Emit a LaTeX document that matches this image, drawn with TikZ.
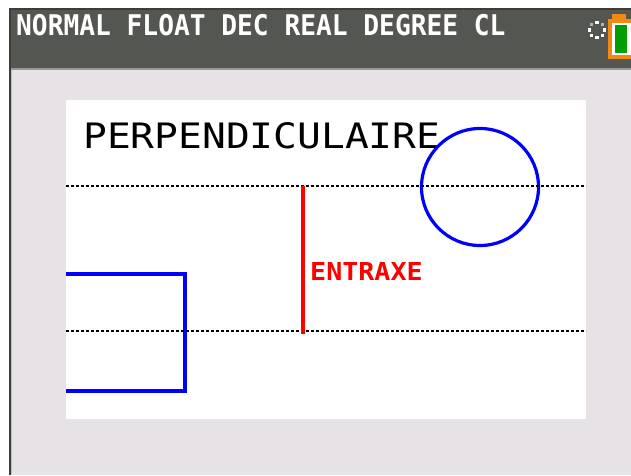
\documentclass[tikz,border=0pt]{standalone}
\usepackage{fontspec}
\newfontfamily\calcfont{DejaVu Sans Mono}
\definecolor{barbg}{RGB}{84,86,82}
\definecolor{barline}{RGB}{60,62,60}
\definecolor{screenbg}{RGB}{230,226,229}
\definecolor{battorange}{RGB}{240,138,20}
\definecolor{battgreen}{RGB}{0,158,0}
\definecolor{plotblue}{RGB}{0,0,255}
\definecolor{plotred}{RGB}{255,0,0}
\tikzset{
  guide/.style={black, line width=1.1pt, dash pattern=on 3pt off 2pt},
  shapeline/.style={plotblue, line width=3.2pt, line join=miter},
  statustext/.style={anchor=base west, inner sep=0pt, text=white,
    font=\calcfont\bfseries\fontsize{28.5}{30}\selectfont},
  titletext/.style={anchor=base west, inner sep=0pt, text=black,
    font=\calcfont\fontsize{35}{37}\selectfont},
  labeltext/.style={anchor=base west, inner sep=0pt, text=plotred,
    font=\calcfont\bfseries\fontsize{24.7}{26}\selectfont},
}
\begin{document}
\begin{tikzpicture}[x=1pt,y=-1pt]
\useasboundingbox (0,0) rectangle (631,475);
\clip (0,0) rectangle (631,475);
% frame and screen background
\fill[white] (0,0) rectangle (631,475);
\fill[screenbg] (11,10) rectangle (631,475);
\fill[barline] (9,8) rectangle (631,10);
\fill[barline] (9,8) rectangle (11,475);
\fill[black!25] (11,10) rectangle (12,475);
% status bar
\fill[barbg] (11,10) rectangle (631,68);
\fill[black!40] (11,68) rectangle (631,70);
\node[statustext] (status) at (16,35) {\scalebox{0.92}[1]{NORMAL FLOAT DEC REAL DEGREE CL}};
% busy indicator
\foreach \a/\c in {0/white,45/white,90/white,135/white,180/white,225/black!30,270/white,315/black!30}
  \fill[\c,shift={(597,30)}] (\a:7.5) ++(-1.6,-1.6) rectangle ++(3.2,3.2);
% battery
\fill[battorange] (612,14) rectangle (626,20);
\fill[battorange] (608,19) rectangle (640,59);
\fill[white] (612,23) rectangle (636,55);
\fill[battgreen] (615,25) rectangle (627,53);
% graph window
\fill[white] (66,100) rectangle (586,419);
\node[titletext] (title) at (83,148) {\scalebox{1.13}[1]{PERPENDICULAIRE}};
% shapes
\draw[shapeline] (480,187) circle[radius=58.5];
\coordinate (rtl) at (66,274);
\coordinate (rtr) at (185,274);
\coordinate (rbr) at (185,391);
\coordinate (rbl) at (66,391);
\draw[shapeline] (rtl) -- (rtr) -- (rbr) -- (rbl);
% axis lines
\coordinate (g1a) at (66,186);
\coordinate (g1b) at (586,186);
\coordinate (g2a) at (66,331);
\coordinate (g2b) at (586,331);
\draw[guide] (g1a) -- (g1b);
\draw[guide] (g2a) -- (g2b);
% centre distance
\coordinate (ea) at (303,185.5);
\coordinate (eb) at (303,334);
\draw[plotred, line width=3.5pt] (ea) -- (eb);
\node[labeltext] (entraxe) at (310,280) {\scalebox{1.08}[1]{ENTRAXE}};
\end{tikzpicture}
\end{document}
